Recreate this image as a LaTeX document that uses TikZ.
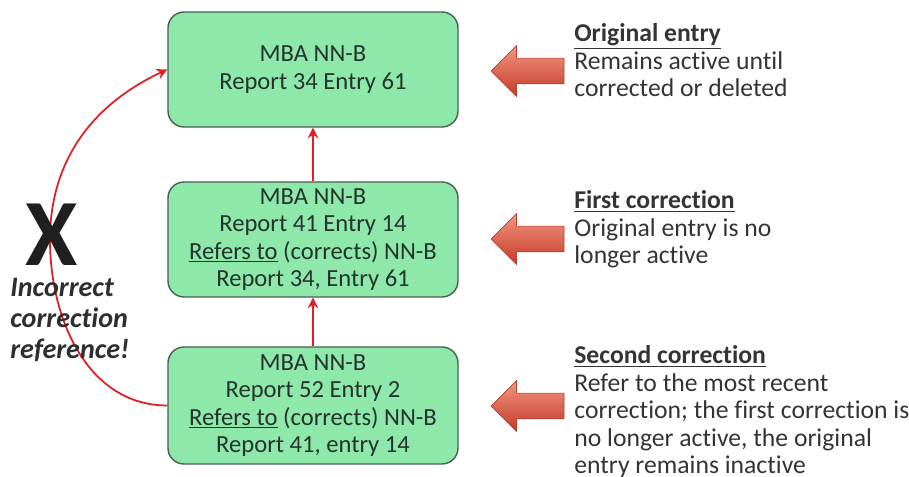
\documentclass[tikz,border=0pt]{standalone}
\usepackage{fontspec}
\setmainfont{Carlito}[Ligatures=NoCommon]
\usetikzlibrary{arrows.meta, shapes.arrows}
\definecolor{cBox}{RGB}{142, 232, 170}
\definecolor{bBox}{RGB}{72, 96, 82}
\definecolor{tBox}{RGB}{36, 52, 44}
\definecolor{cLink}{RGB}{226, 30, 36}
\definecolor{cArrTop}{RGB}{242, 150, 128}
\definecolor{cArrBot}{RGB}{196, 58, 40}
\definecolor{bArr}{RGB}{184, 66, 48}
\definecolor{tNote}{RGB}{52, 52, 52}

\begin{document}
\begin{tikzpicture}[
    font=\fontsize{14}{15.7}\selectfont,
    report/.style={
        draw=bBox,
        fill=cBox,
        line width=0.8pt,
        rounded corners=0.32cm,
        minimum width=5.8cm,
        minimum height=2.3cm,
        align=center,
        text=tBox
    },
    pointer/.style={
        single arrow,
        shape border rotate=180,
        minimum width=1cm,
        minimum height=1.46cm,
        single arrow head extend=0.25cm,
        inner xsep=0pt,
        inner ysep=0.25cm,
        top color=cArrTop,
        bottom color=cArrBot,
        draw=bArr,
        line width=0.4pt
    },
    note/.style={anchor=north west, align=left, inner sep=0pt, text=tNote,
        font=\fontsize{14.6}{15.6}\selectfont},
    link/.style={-{Stealth[length=6pt, width=6pt]}, line width=1pt, color=cLink}
]
\useasboundingbox (0,0) rectangle (18.18,9.54);

% report boxes
\node[report] (r1) at (6.26, 8.15) {MBA NN-B\\Report 34 Entry 61};
\node[report] (r2) at (6.26, 4.75) {MBA NN-B\\Report 41 Entry 14\\\underline{Refers to} (corrects) NN-B\\Report 34, Entry 61};
\node[report, minimum height=2.34cm] (r3) at (6.26, 1.43) {MBA NN-B\\Report 52 Entry 2\\\underline{Refers to} (corrects) NN-B\\Report 41, entry 14};

\draw[link] (r2) -- (r1);
\draw[link] (r3) -- (r2);

% wrong reference
\coordinate (bend) at (1.0, 4.74);
\draw[link] (r3.west) to[out=180, in=-90] (bend) to[out=90, in=205] (r1.west);

\node[inner sep=0pt, font=\fontsize{54}{54}\bfseries\selectfont, text=black!88] (cross) at (1.04, 4.84) {X};
\node[note, font=\fontsize{16}{17.6}\bfseries\itshape\selectfont, text=black!82] (wrong) at (0.2, 3.98) {Incorrect\\correction\\reference!};

% side notes
\node[pointer] (a1) at (10.68, 8.12) {};
\node[pointer] (a2) at (10.68, 4.76) {};
\node[pointer] (a3) at (10.68, 1.42) {};

\node[note] (n1) at (11.48, 9.07) {\textbf{\underline{Original entry}}\\Remains active until\\corrected or deleted};
\node[note] (n2) at (11.48, 5.73) {\textbf{\underline{First correction}}\\Original entry is no\\longer active};
\node[note] (n3) at (11.48, 2.63) {\textbf{\underline{Second correction}}\\Refer to the most recent\\correction; the first correction is\\no longer active, the original\\entry remains inactive};

\end{tikzpicture}
\end{document}
